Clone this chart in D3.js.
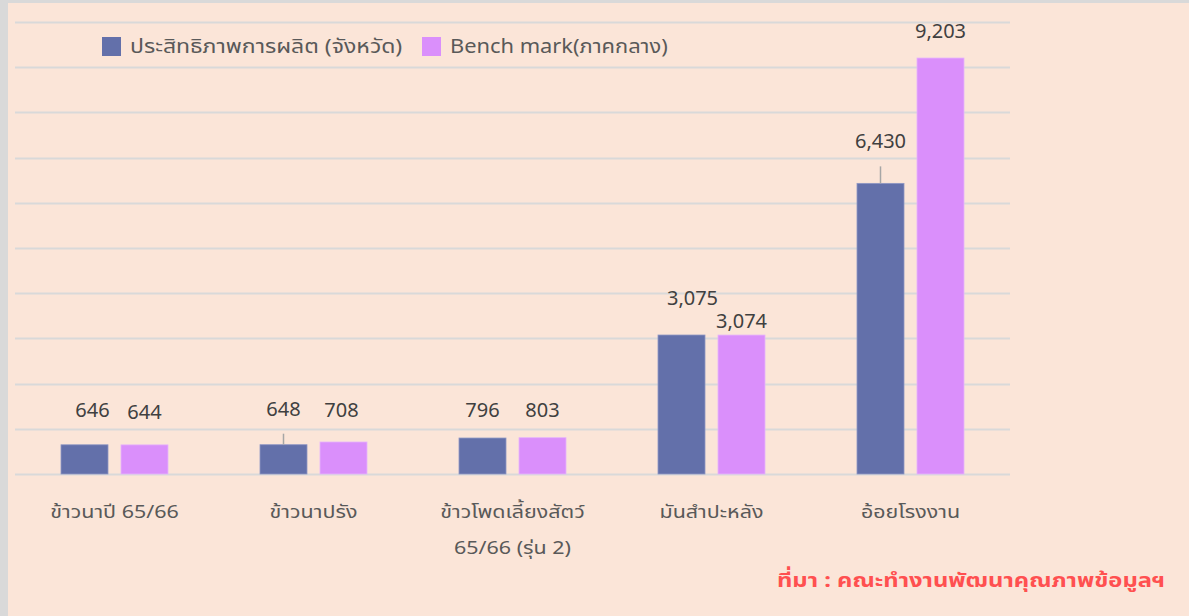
<!DOCTYPE html>
<html><head><meta charset="utf-8">
<script src="https://cdn.jsdelivr.net/npm/d3@7"></script>
<style>
html,body{margin:0;padding:0;background:#d9d9d9;}
svg{display:block;}
text{font-family:"Noto Sans","Noto Sans Thai",sans-serif;}
</style></head>
<body>
<svg id="chart" width="1189" height="616"></svg>
<script>
const categories = ["ข้าวนาปี 65/66", "ข้าวนาปรัง", "ข้าวโพดเลี้ยงสัตว์|65/66 (รุ่น 2)", "มันสำปะหลัง", "อ้อยโรงงาน"];
const seriesNames = ["ประสิทธิภาพการผลิต (จังหวัด)", "Bench mark(ภาคกลาง)"];
const provinceValues = [646, 648, 796, 3075, 6430];
const benchmarkValues = [644, 708, 803, 3074, 9203];
const yTicks = [0,1000,2000,3000,4000,5000,6000,7000,8000,9000,10000];
const sourceText = "ที่มา : คณะทำงานพัฒนาคุณภาพข้อมูลฯ";

const colors = ["#6370AA", "#DA8FFB"];
// manual label placement like the original: lift above bar top and sideways shift (px)
const labelLift = [[28, 29, 21, 30, 35], [26, 25, 21, 7, 20]];
const labelShift = [[8, 0, 0, 11, 0], [0, -2, 0, 0, 0]];
const leader = [[false, true, false, false, true], [false, false, false, false, false]];

(function () {
const svg = d3.select("#chart");
const W = 1189, H = 616;
svg.append("rect").attr("x", 8).attr("y", 3).attr("width", W - 8).attr("height", H - 3).attr("fill", "#FBE5D8");

function widen(sel, f) {
  sel.each(function () {
    const w = this.getComputedTextLength();
    d3.select(this).attr("textLength", w * f).attr("lengthAdjust", "spacingAndGlyphs");
  });
}

const mLeft = 15, mRight = 1010, mTop = 22, mBottom = 474;
const x0 = d3.scaleBand().domain(d3.range(categories.length)).range([mLeft, mRight]).paddingInner(0).paddingOuter(0);
const barW = 47, gap = 13;
const y = d3.scaleLinear().domain([0, 10000]).range([mBottom, mTop]);

svg.append("g").selectAll("line").data(yTicks).join("line")
  .attr("x1", mLeft).attr("x2", mRight)
  .attr("y1", d => Math.round(y(d)) + 0.5).attr("y2", d => Math.round(y(d)) + 0.5)
  .attr("stroke", "#D9D9D9").attr("stroke-width", 2);

const series = [provinceValues, benchmarkValues];
series.forEach((vals, si) => {
  const g = svg.append("g");
  const bx = i => x0(i) + x0.bandwidth() / 2 - (barW * 2 + gap) / 2 + si * (barW + gap);
  g.selectAll("rect").data(vals).join("rect")
    .attr("x", (d, i) => bx(i))
    .attr("y", d => y(d))
    .attr("width", barW)
    .attr("height", d => y(0) - y(d))
    .attr("fill", colors[si])
    .attr("stroke", si === 0 ? "#8E97C4" : "#E6B3FC").attr("stroke-width", 0.8);
  g.selectAll("line.leader").data(vals.map((d, i) => ({d, i})).filter(o => leader[si][o.i])).join("line")
    .attr("x1", o => bx(o.i) + barW / 2).attr("x2", o => bx(o.i) + barW / 2)
    .attr("y1", o => y(o.d)).attr("y2", o => y(o.d) - labelLift[si][o.i] + 18)
    .attr("stroke", "#A6A6A6").attr("stroke-width", 1.5);
  g.selectAll("text").data(vals).join("text")
    .attr("x", (d, i) => bx(i) + barW / 2 + labelShift[si][i])
    .attr("y", (d, i) => y(d) - labelLift[si][i])
    .attr("text-anchor", "middle")
    .attr("font-size", 20)
    .attr("fill", "#404040")
    .text(d => d3.format(",")(d));
});

const cat = svg.append("g");
categories.forEach((c, i) => {
  c.split("|").forEach((ln, li) => {
    cat.append("text")
      .attr("x", x0(i) + x0.bandwidth() / 2)
      .attr("y", 518 + li * 36)
      .attr("text-anchor", "middle")
      .attr("font-size", 18.5)
      .attr("fill", "#595959")
      .text(ln)
      .call(widen, 1.16);
  });
});

const legendX = [102, 422];
const legendWiden = [1.18, 1.12];
seriesNames.forEach((n, i) => {
  svg.append("rect").attr("x", legendX[i]).attr("y", 37).attr("width", 19).attr("height", 19).attr("fill", colors[i]);
  svg.append("text").attr("x", legendX[i] + 28).attr("y", 53).attr("font-size", 19.5).attr("fill", "#595959").text(n)
    .call(widen, legendWiden[i]);
});

svg.append("text").attr("x", 777).attr("y", 587).attr("font-size", 20).attr("font-weight", "bold")
  .attr("fill", "#FF5050").text(sourceText).call(widen, 1.19);
})();
</script>
</body></html>
